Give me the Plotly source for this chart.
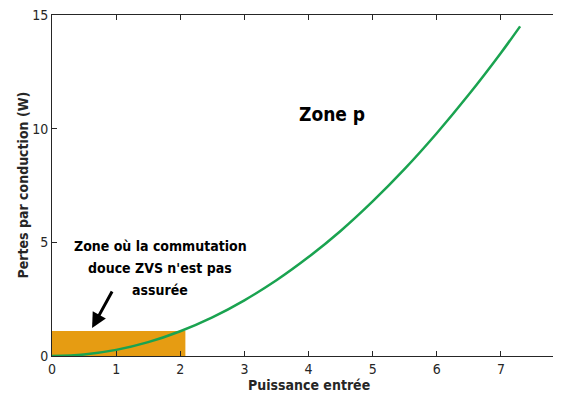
import plotly.graph_objects as go

# Data
puissance = [0, 0.5, 1, 1.5, 2, 2.5, 3, 3.5, 4, 4.5, 5, 5.5, 6, 6.5, 7, 7.3]
pertes = [0, 0.07, 0.27, 0.61, 1.09, 1.70, 2.45, 3.33, 4.35, 5.50, 6.80, 8.23, 9.80, 11.50, 13.33, 14.5]
zone_x = [0, 0, 2.08, 2.08, 0]
zone_y = [0, 1.1, 1.1, 0, 0]
x_ticks = [0, 1, 2, 3, 4, 5, 6, 7, 8]
y_ticks = [0, 5, 10, 15]
note_lines = ["Zone où la commutation", "douce ZVS n'est pas", "assurée"]
note_y = [4.84, 3.87, 2.90]

FONT = "DejaVu Sans Condensed, DejaVu Sans"
DARK = "#262626"

fig = go.Figure()
fig.add_trace(go.Scatter(x=zone_x, y=zone_y, fill="toself", mode="none",
                         fillcolor="#E69C12", hoverinfo="skip", showlegend=False))
fig.add_trace(go.Scatter(x=puissance, y=pertes, mode="lines", line_shape="spline",
                         line=dict(color="#1AA350", width=2.5), showlegend=False))

fig.add_annotation(x=4.36, y=10.65, text="<b>Zone p</b>", showarrow=False,
                   font=dict(family=FONT, size=19, color="black"))
for txt, yy in zip(note_lines, note_y):
    fig.add_annotation(x=1.69, y=yy, text="<b>" + txt + "</b>", showarrow=False,
                       font=dict(family=FONT, size=14, color="black"))
fig.add_annotation(x=0.625, y=1.23, ax=0.95, ay=2.9, axref="x", ayref="y",
                   text="", showarrow=True, arrowhead=2, arrowsize=1, arrowwidth=3,
                   arrowcolor="black")
fig.add_annotation(x=0.5, y=0, xref="paper", yref="paper", yshift=-29, yanchor="middle",
                   text="<b>Puissance entrée</b>", showarrow=False,
                   font=dict(family=FONT, size=14, color=DARK))
fig.add_annotation(x=0, y=0.5, xref="paper", yref="paper", xshift=-30, xanchor="center",
                   text="<b>Pertes par conduction (W)</b>", showarrow=False, textangle=-90,
                   font=dict(family=FONT, size=14, color=DARK))

fig.update_layout(
    width=561, height=386,
    margin=dict(l=44, r=4, t=7, b=38),
    paper_bgcolor="white", plot_bgcolor="white",
    font=dict(family=FONT, size=14, color=DARK),
    xaxis=dict(range=[0, 8], tickvals=x_ticks, ticks="inside", ticklen=5,
               tickcolor=DARK, showline=True, linecolor=DARK, linewidth=1,
               mirror="allticks", showgrid=False, zeroline=False, automargin=False,
               ticklabeloverflow="allow",
               tickfont=dict(family=FONT, size=14, color=DARK)),
    yaxis=dict(range=[0, 15], tickvals=y_ticks, ticks="inside", ticklen=5,
               tickcolor=DARK, showline=True, linecolor=DARK, linewidth=1,
               mirror=False, showgrid=False, zeroline=False, automargin=False,
               ticklabeloverflow="allow",
               tickfont=dict(family=FONT, size=14, color=DARK)),
)
fig.update_xaxes(tickprefix="<b>", ticksuffix="</b>")
fig.update_yaxes(tickprefix="<b>", ticksuffix="</b>")

fig.write_html("out.html")
